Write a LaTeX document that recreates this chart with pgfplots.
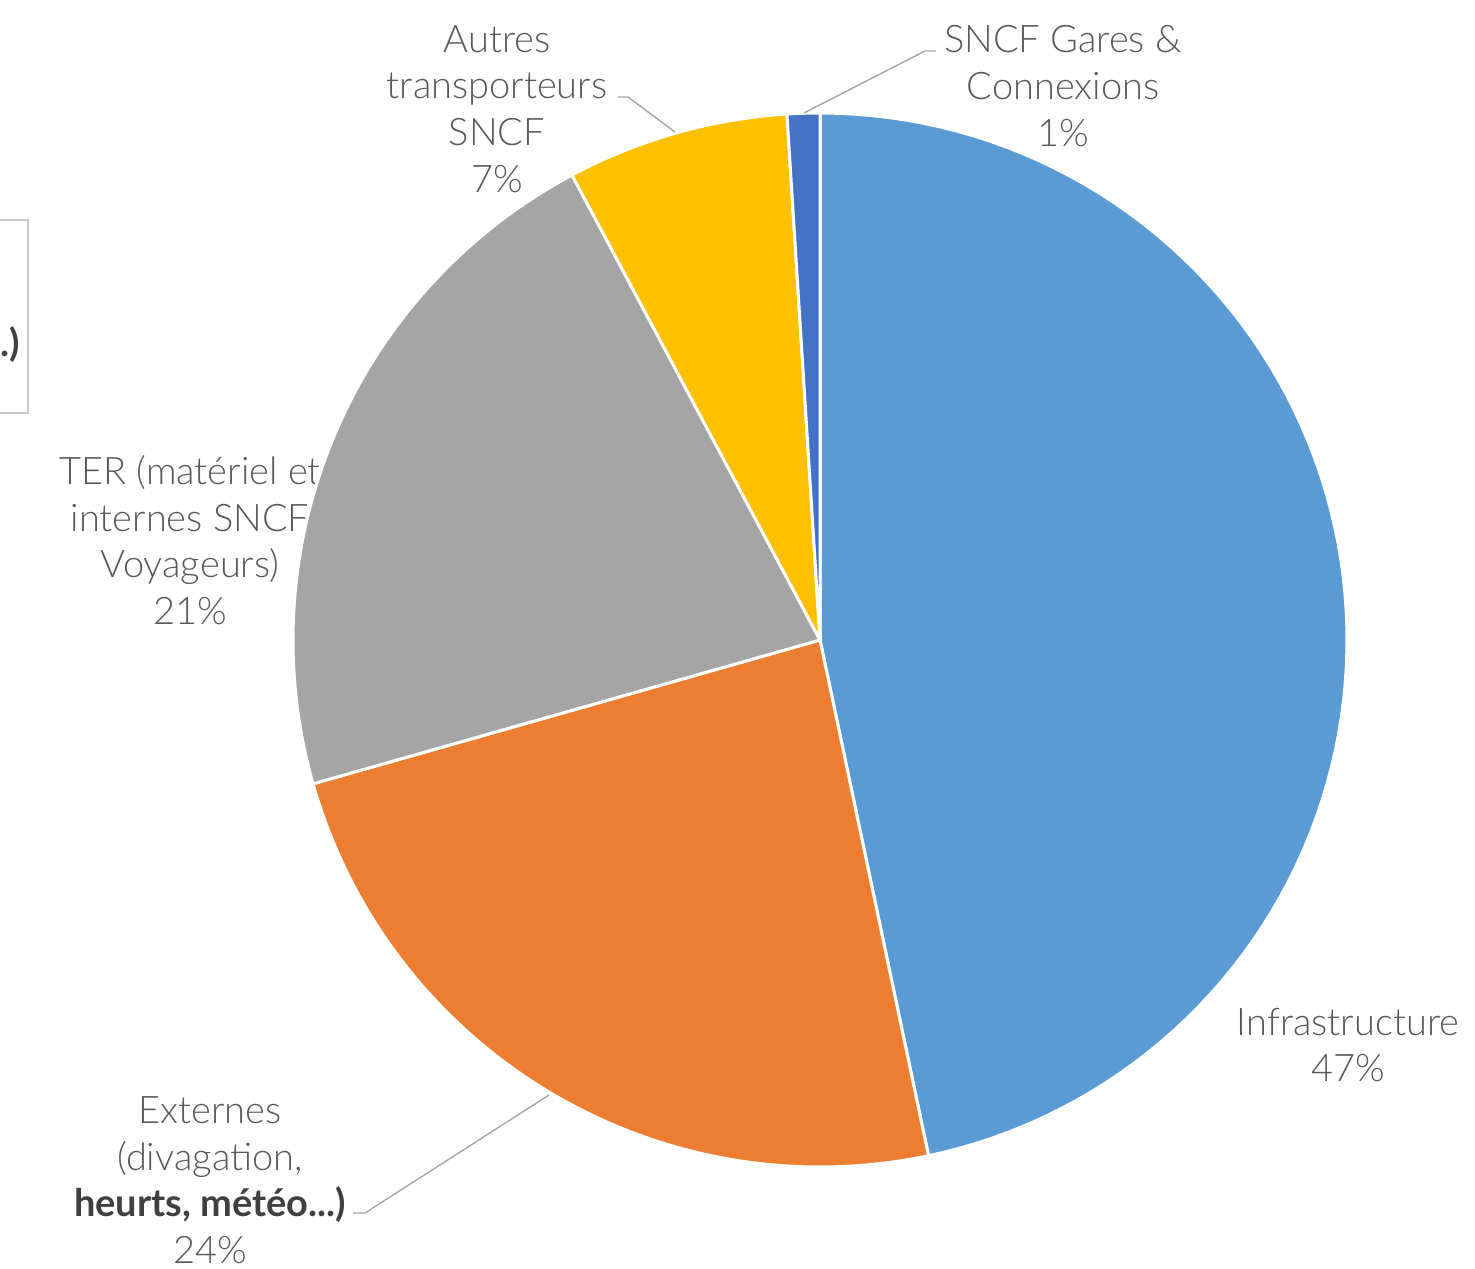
\documentclass[border=0pt]{standalone}
\usepackage{pgfplots}
\pgfplotsset{compat=1.18}
\usepackage{pgfplotstable}
\usepackage{fontspec}
\setmainfont{Lato Light}[BoldFont={Lato Bold}]
\definecolor{cInf}{HTML}{5B9BD5}
\definecolor{cExt}{HTML}{ED7D31}
\definecolor{cTER}{HTML}{A5A5A5}
\definecolor{cAut}{HTML}{FFC000}
\definecolor{cGar}{HTML}{4472C4}
\definecolor{txt}{HTML}{595959}
\definecolor{txtb}{HTML}{404040}
\definecolor{lead}{HTML}{A6A6A6}
\definecolor{lbox}{HTML}{C8C8C8}

\pgfplotstableread{
label value
Infrastructure 46.7
Externes 23.9
TER 21.6
Autres 6.8
Gares 1.0
}\piedata

\tikzset{lbl/.style={font=\fontsize{19}{23.3}\selectfont, text=txt, align=center, inner sep=0pt}}

\begin{document}%
\begin{tikzpicture}
\pgfplotstablegetelem{0}{value}\of\piedata \pgfmathsetmacro{\aB}{3.6*\pgfplotsretval}
\pgfplotstablegetelem{1}{value}\of\piedata \pgfmathsetmacro{\aC}{\aB+3.6*\pgfplotsretval}
\pgfplotstablegetelem{2}{value}\of\piedata \pgfmathsetmacro{\aD}{\aC+3.6*\pgfplotsretval}
\pgfplotstablegetelem{3}{value}\of\piedata \pgfmathsetmacro{\aE}{\aD+3.6*\pgfplotsretval}
\pgfplotstablegetelem{4}{value}\of\piedata \pgfmathsetmacro{\aF}{\aE+3.6*\pgfplotsretval}
\begin{axis}[
  at={(0,0)}, anchor=south west,
  width=737.5pt, height=634pt, scale only axis,
  xmin=0, xmax=1475, ymin=0, ymax=1268, y dir=reverse,
  hide axis, clip=false,
  wedge/.style={draw=white, line width=1.5pt, line join=round, samples=90, variable=\t},
]
% legend box remnant
\draw[lbox, line width=0.8pt] (axis cs:0,220) -- (axis cs:28,220) -- (axis cs:28,413) -- (axis cs:0,413);
\node[lbl, anchor=east, text=txtb] at (axis cs:20,345) {\textbf{.)}};
% labels
\node[lbl] at (axis cs:1063,86) {SNCF Gares \&\\Connexions\\1\%};
\node[lbl] at (axis cs:497,109) {Autres\\transporteurs\\SNCF\\7\%};
\node[lbl] at (axis cs:190,540) {TER (matériel et\\internes SNCF\\Voyageurs)\\21\%};
\node[lbl] at (axis cs:1348,1045) {Infrastructure\\47\%};
\node[lbl] at (axis cs:210,1180) {Externes\\(divagation,\\{\color{txtb}\textbf{heurts, météo...)}}\\24\%};
% wedges
\addplot[wedge, fill=cInf, domain=0:\aB] ({820+527*sin(\t)},{640-527*cos(\t)}) -- (axis cs:820,640) -- cycle;
\addplot[wedge, fill=cExt, domain=\aB:\aC] ({820+527*sin(\t)},{640-527*cos(\t)}) -- (axis cs:820,640) -- cycle;
\addplot[wedge, fill=cTER, domain=\aC:\aD] ({820+527*sin(\t)},{640-527*cos(\t)}) -- (axis cs:820,640) -- cycle;
\addplot[wedge, fill=cAut, domain=\aD:\aE] ({820+527*sin(\t)},{640-527*cos(\t)}) -- (axis cs:820,640) -- cycle;
\addplot[wedge, fill=cGar, domain=\aE:\aF] ({820+527*sin(\t)},{640-527*cos(\t)}) -- (axis cs:820,640) -- cycle;
% leader lines
\draw[lead, line width=0.7pt] (axis cs:804,113) -- (axis cs:925,51) -- (axis cs:936,51);
\draw[lead, line width=0.7pt] (axis cs:618,97) -- (axis cs:628,97) -- (axis cs:675,132);
\draw[lead, line width=0.7pt] (axis cs:353,1213) -- (axis cs:365,1213) -- (axis cs:549,1095);
\end{axis}
\pgfresetboundingbox
\path[use as bounding box] (0,0) rectangle (737.5pt,634pt);
\end{tikzpicture}%
\end{document}
